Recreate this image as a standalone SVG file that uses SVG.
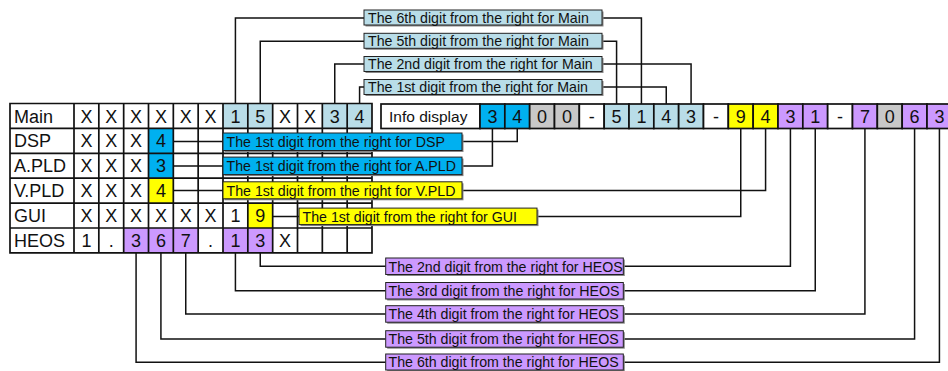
<svg xmlns="http://www.w3.org/2000/svg" width="948" height="371" viewBox="0 0 948 371">
<style>
.bg{fill:#ffffff}
.grid{fill:none;stroke:#111;stroke-width:1.7}
.cell{stroke:#111;stroke-width:1.7}
.w{fill:#ffffff}.lb{fill:#b9dde8}.bl{fill:#00b0f0}.ye{fill:#ffff00}.pu{fill:#cc99ff}.gr{fill:#c8c8c8}
.t{font-family:"Liberation Sans",Arial,sans-serif;font-size:18px;fill:#111;text-anchor:middle}
.tl{font-family:"Liberation Sans",Arial,sans-serif;font-size:18px;fill:#111}
.info{font-family:"Liberation Sans",Arial,sans-serif;font-size:15.5px;fill:#111}
.lab{stroke:#222;stroke-width:1}
.sh{fill:#888}
.lt{font-family:"Liberation Sans",Arial,sans-serif;font-size:14.2px;fill:#111}
.con{fill:none;stroke:#111;stroke-width:1.5}
</style>
<rect class="bg" x="0" y="0" width="948" height="371"/>

<g id="connectors">
  <!-- Main -->
  <path class="con" d="M364,18 H235.42 V103.5 M602,18 H641.42 V104"/>
  <path class="con" d="M364,41.3 H260.25 V103.5 M602,41.3 H616.58 V104"/>
  <path class="con" d="M364,64 H334.75 V103.5 M602,64 H691.08 V104"/>
  <path class="con" d="M364,87 H359.58 V103.5 M602,87 H666.25 V104"/>
  <!-- DSP / PLD / GUI -->
  <path class="con" d="M173.33,141.6 H223 M462,141.6 H517.25 V128.5"/>
  <path class="con" d="M173.33,165.9 H223 M462,165.9 H492.42 V128.5"/>
  <path class="con" d="M173.33,190.6 H223 M462,190.6 H765.58 V128.5"/>
  <path class="con" d="M272.67,216.6 H299 M537,216.6 H740.75 V128.5"/>
  <!-- HEOS -->
  <path class="con" d="M260.25,252.9 V266.3 H385.7 M623.3,266.3 H790.42 V128.5"/>
  <path class="con" d="M235.42,252.9 V290.8 H385.7 M623.3,290.8 H815.25 V128.5"/>
  <path class="con" d="M185.75,252.9 V314 H385.7 M623.3,314 H864.92 V128.5"/>
  <path class="con" d="M160.92,252.9 V339 H385.7 M623.3,339 H914.58 V128.5"/>
  <path class="con" d="M136.08,252.9 V362.3 H385.7 M623.3,362.3 H939.42 V128.5"/>
</g>

<g id="version-table">
  <!-- coloured cells -->
  <rect class="lb" x="223" y="103.5" width="49.67" height="24.9"/>
  <rect class="lb" x="322.33" y="103.5" width="49.67" height="24.9"/>
  <rect class="bl" x="148.5" y="128.4" width="24.83" height="24.9"/>
  <rect class="bl" x="148.5" y="153.3" width="24.83" height="24.9"/>
  <rect class="ye" x="148.5" y="178.2" width="24.83" height="24.9"/>
  <rect class="ye" x="247.83" y="203.1" width="24.83" height="24.9"/>
  <rect class="pu" x="123.67" y="228" width="74.5" height="24.9"/>
  <rect class="pu" x="223" y="228" width="49.67" height="24.9"/>
  <path class="grid" d="M10,103.5 H372 V252.9 H10 Z M10,128.4 H372 M10,153.3 H372 M10,178.2 H372 M10,203.1 H372 M10,228 H372
    M74,103.5 V252.9 M98.83,103.5 V252.9 M123.67,103.5 V252.9 M148.5,103.5 V252.9 M173.33,103.5 V252.9 M198.17,103.5 V252.9
    M223,103.5 V252.9 M247.83,103.5 V252.9 M272.67,103.5 V252.9 M297.5,103.5 V252.9 M322.33,103.5 V252.9 M347.17,103.5 V252.9"/>
  <!-- row labels -->
  <text class="tl" x="14" y="122.5">Main</text>
  <text class="tl" x="14" y="147.4">DSP</text>
  <text class="tl" x="14" y="172.3">A.PLD</text>
  <text class="tl" x="14" y="197.2">V.PLD</text>
  <text class="tl" x="14" y="222.1">GUI</text>
  <text class="tl" x="14" y="246.9">HEOS</text>
  <!-- Main -->
  <text class="t" y="122.5"><tspan x="86.42">X</tspan><tspan x="111.25">X</tspan><tspan x="136.08">X</tspan><tspan x="160.92">X</tspan><tspan x="185.75">X</tspan><tspan x="210.58">X</tspan><tspan x="235.42">1</tspan><tspan x="260.25">5</tspan><tspan x="285.08">X</tspan><tspan x="309.92">X</tspan><tspan x="334.75">3</tspan><tspan x="359.58">4</tspan></text>
  <!-- DSP -->
  <text class="t" y="147.4"><tspan x="86.42">X</tspan><tspan x="111.25">X</tspan><tspan x="136.08">X</tspan><tspan x="160.92">4</tspan></text>
  <!-- A.PLD -->
  <text class="t" y="172.3"><tspan x="86.42">X</tspan><tspan x="111.25">X</tspan><tspan x="136.08">X</tspan><tspan x="160.92">3</tspan></text>
  <!-- V.PLD -->
  <text class="t" y="197.2"><tspan x="86.42">X</tspan><tspan x="111.25">X</tspan><tspan x="136.08">X</tspan><tspan x="160.92">4</tspan></text>
  <!-- GUI -->
  <text class="t" y="222.1"><tspan x="86.42">X</tspan><tspan x="111.25">X</tspan><tspan x="136.08">X</tspan><tspan x="160.92">X</tspan><tspan x="185.75">X</tspan><tspan x="210.58">X</tspan><tspan x="235.42">1</tspan><tspan x="260.25">9</tspan></text>
  <!-- HEOS -->
  <text class="t" y="246.9"><tspan x="86.42">1</tspan><tspan x="111.25">.</tspan><tspan x="136.08">3</tspan><tspan x="160.92">6</tspan><tspan x="185.75">7</tspan><tspan x="210.58">.</tspan><tspan x="235.42">1</tspan><tspan x="260.25">3</tspan><tspan x="285.08">X</tspan></text>
</g>

<g id="info-display">
  <rect class="cell w" x="381" y="104" width="99" height="24.5"/>
  <text class="info" x="389" y="121.8">Info display</text>
  <rect class="cell bl" x="480" y="104" width="24.83" height="24.5"/>
  <rect class="cell bl" x="504.83" y="104" width="24.83" height="24.5"/>
  <rect class="cell gr" x="529.67" y="104" width="24.83" height="24.5"/>
  <rect class="cell gr" x="554.5" y="104" width="24.83" height="24.5"/>
  <rect class="cell w" x="579.33" y="104" width="24.83" height="24.5"/>
  <rect class="cell lb" x="604.17" y="104" width="24.83" height="24.5"/>
  <rect class="cell lb" x="629" y="104" width="24.83" height="24.5"/>
  <rect class="cell lb" x="653.83" y="104" width="24.83" height="24.5"/>
  <rect class="cell lb" x="678.67" y="104" width="24.83" height="24.5"/>
  <rect class="cell w" x="703.5" y="104" width="24.83" height="24.5"/>
  <rect class="cell ye" x="728.33" y="104" width="24.83" height="24.5"/>
  <rect class="cell ye" x="753.17" y="104" width="24.83" height="24.5"/>
  <rect class="cell pu" x="778" y="104" width="24.83" height="24.5"/>
  <rect class="cell pu" x="802.83" y="104" width="24.83" height="24.5"/>
  <rect class="cell w" x="827.67" y="104" width="24.83" height="24.5"/>
  <rect class="cell pu" x="852.5" y="104" width="24.83" height="24.5"/>
  <rect class="cell gr" x="877.33" y="104" width="24.83" height="24.5"/>
  <rect class="cell pu" x="902.17" y="104" width="24.83" height="24.5"/>
  <rect class="cell pu" x="927" y="104" width="24.83" height="24.5"/>
  <text class="t" y="123"><tspan x="492.42">3</tspan><tspan x="517.25">4</tspan><tspan x="542.08">0</tspan><tspan x="566.92">0</tspan><tspan x="591.75">-</tspan><tspan x="616.58">5</tspan><tspan x="641.42">1</tspan><tspan x="666.25">4</tspan><tspan x="691.08">3</tspan><tspan x="715.92">-</tspan><tspan x="740.75">9</tspan><tspan x="765.58">4</tspan><tspan x="790.42">3</tspan><tspan x="815.25">1</tspan><tspan x="840.08">-</tspan><tspan x="864.92">7</tspan><tspan x="889.75">0</tspan><tspan x="914.58">6</tspan><tspan x="939.42">3</tspan></text>
</g>

<g id="label-main-6th">
  <rect class="sh" x="365.5" y="11.5" width="238" height="15"/>
  <rect class="lab lb" x="364" y="10" width="238" height="15"/>
  <text class="lt" x="368" y="22.7">The 6th digit from the right for Main</text>
</g>
<g id="label-main-5th">
  <rect class="sh" x="365.5" y="34.8" width="238" height="15"/>
  <rect class="lab lb" x="364" y="33.3" width="238" height="15"/>
  <text class="lt" x="368" y="46">The 5th digit from the right for Main</text>
</g>
<g id="label-main-2nd">
  <rect class="sh" x="365.5" y="58" width="238" height="15"/>
  <rect class="lab lb" x="364" y="56.5" width="238" height="15"/>
  <text class="lt" x="368" y="69.2">The 2nd digit from the right for Main</text>
</g>
<g id="label-main-1st">
  <rect class="sh" x="365.5" y="81" width="238" height="15"/>
  <rect class="lab lb" x="364" y="79.5" width="238" height="15"/>
  <text class="lt" x="368" y="92.2">The 1st digit from the right for Main</text>
</g>

<g id="label-dsp">
  <rect class="sh" x="224.5" y="134.5" width="239" height="17.5"/>
  <rect class="lab bl" x="223" y="133" width="239" height="17.5"/>
  <text class="lt" x="226.5" y="146.8">The 1st digit from the right for DSP</text>
</g>
<g id="label-apld">
  <rect class="sh" x="224.5" y="158.6" width="239" height="17.5"/>
  <rect class="lab bl" x="223" y="157.1" width="239" height="17.5"/>
  <text class="lt" x="226.5" y="171">The 1st digit from the right for A.PLD</text>
</g>
<g id="label-vpld">
  <rect class="sh" x="224.5" y="183.3" width="239" height="17"/>
  <rect class="lab ye" x="223" y="181.8" width="239" height="17"/>
  <text class="lt" x="226.5" y="195.7">The 1st digit from the right for V.PLD</text>
</g>
<g id="label-gui">
  <rect class="sh" x="300.5" y="209.6" width="238" height="16.5"/>
  <rect class="lab ye" x="299" y="208.1" width="238" height="16.5"/>
  <text class="lt" x="302.5" y="221.7">The 1st digit from the right for GUI</text>
</g>

<g id="label-heos-2nd">
  <rect class="sh" x="387.2" y="259.5" width="237.6" height="16.5"/>
  <rect class="lab pu" x="385.7" y="258" width="237.6" height="16.5"/>
  <text class="lt" x="388.5" y="271.5">The 2nd digit from the right for HEOS</text>
</g>
<g id="label-heos-3rd">
  <rect class="sh" x="387.2" y="284" width="237.6" height="16.5"/>
  <rect class="lab pu" x="385.7" y="282.5" width="237.6" height="16.5"/>
  <text class="lt" x="388.5" y="296">The 3rd digit from the right for HEOS</text>
</g>
<g id="label-heos-4th">
  <rect class="sh" x="387.2" y="307.2" width="237.6" height="16.5"/>
  <rect class="lab pu" x="385.7" y="305.7" width="237.6" height="16.5"/>
  <text class="lt" x="388.5" y="319.2">The 4th digit from the right for HEOS</text>
</g>
<g id="label-heos-5th">
  <rect class="sh" x="387.2" y="332.2" width="237.6" height="16.5"/>
  <rect class="lab pu" x="385.7" y="330.7" width="237.6" height="16.5"/>
  <text class="lt" x="388.5" y="344.2">The 5th digit from the right for HEOS</text>
</g>
<g id="label-heos-6th">
  <rect class="sh" x="387.2" y="355.5" width="237.6" height="16"/>
  <rect class="lab pu" x="385.7" y="354" width="237.6" height="16"/>
  <text class="lt" x="388.5" y="367.4">The 6th digit from the right for HEOS</text>
</g>
</svg>
